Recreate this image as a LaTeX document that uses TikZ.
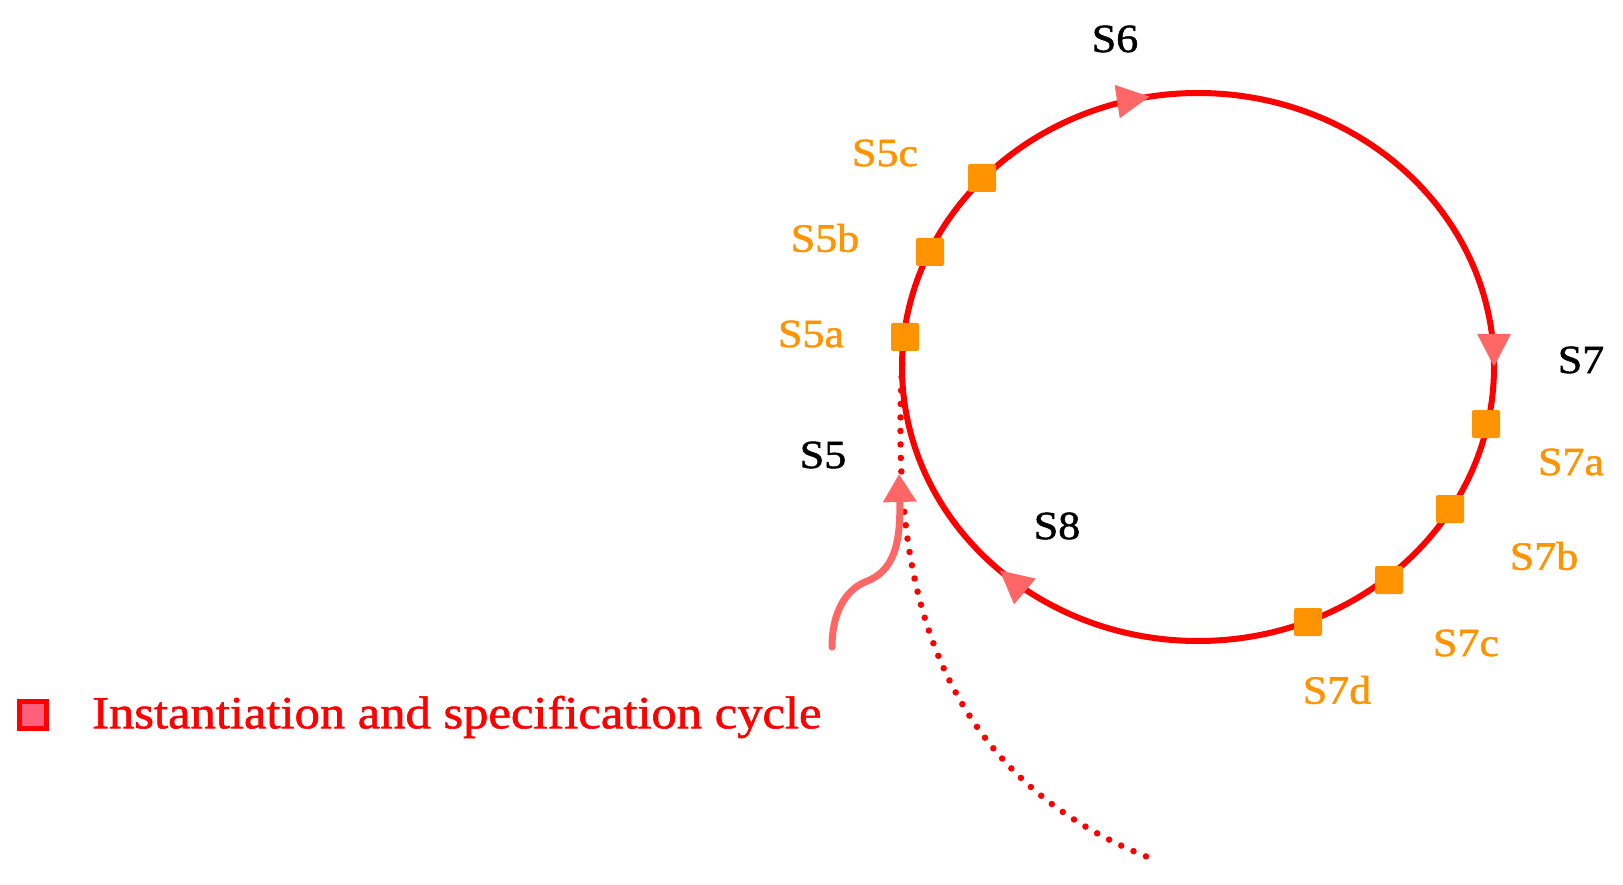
\documentclass[tikz,border=0pt]{standalone}
\usepackage{fontspec}
\newfontfamily\pal[FakeStretch=1.1,FakeBold=1.3]{Liberation Serif}
\usetikzlibrary{arrows.meta,decorations.markings}
\definecolor{cycred}{HTML}{FF0000}
\definecolor{arrpink}{HTML}{FF6666}
\definecolor{stepor}{HTML}{FF9400}
\definecolor{legpink}{HTML}{FF5F7A}
\tikzset{
  sq/.style={fill=stepor, minimum size=28pt, inner sep=0pt, rounded corners=2pt},
  orlab/.style={text=stepor, font=\pal\fontsize{40}{40}\selectfont, inner sep=0pt},
  bklab/.style={text=black, font=\pal\fontsize{40}{40}\selectfont, inner sep=0pt},
  cyc/.style={draw=cycred, line width=6pt},
  dotline/.style={draw=cycred, line width=6.5pt, line cap=round, dash pattern=on 0pt off 13.5pt},
  entry/.style={draw=arrpink, line width=7pt, line cap=round},
}
\begin{document}
\begin{tikzpicture}[x=1pt,y=-1pt]
\useasboundingbox (0,0) rectangle (1623,885);
% dotted entry path
\coordinate (dtop) at (903,350);
\coordinate (dend) at (1150,858);
\draw[dotline] (dtop) .. controls (893,520) and (900,760) .. (dend);
% cycle
\draw[cyc, decoration={markings,
   mark=at position 0.223 with {\arrow[arrpink]{Triangle[length=33pt,width=32pt]}},
   mark=at position 0.5 with {\arrow[arrpink]{Triangle[length=33pt,width=32pt]}},
   mark=at position 0.87 with {\arrow[arrpink]{Triangle[length=33pt,width=32pt]}}},
   postaction={decorate}]
   (902,367) arc[start angle=180, end angle=-180, x radius=296pt, y radius=274pt];
% incoming arrow
\coordinate (ain) at (832,647);
\coordinate (aout) at (899,474);
\draw[entry, -{Triangle[length=28pt,width=32pt]}] (ain) .. controls (832,612) and (846,590) .. (865,582) .. controls (892,572) and (901,548) .. (aout);
% squares
\node[sq] (s5a) at (905,337) {};
\node[sq] (s5b) at (930,252) {};
\node[sq] (s5c) at (982,178) {};
\node[sq] (s7a) at (1486,424) {};
\node[sq] (s7b) at (1450,509) {};
\node[sq] (s7c) at (1389,580) {};
\node[sq] (s7d) at (1308,622) {};
% labels
\node[orlab] (l5a) at (811,334) {S5a};
\node[orlab] (l5b) at (825,238) {S5b};
\node[orlab] (l5c) at (885,153) {S5c};
\node[orlab] (l7a) at (1571,462) {S7a};
\node[orlab] (l7b) at (1544,556) {S7b};
\node[orlab] (l7c) at (1466,643) {S7c};
\node[orlab] (l7d) at (1337,690) {S7d};
\node[bklab] (l5) at (823,455) {S5};
\node[bklab] (l6) at (1115,39) {S6};
\node[bklab] (l7) at (1581,360) {S7};
\node[bklab] (l8) at (1057,526) {S8};
% legend
\node[draw=cycred, fill=legpink, line width=5pt, minimum size=27pt, inner sep=0pt] (legsq) at (33,715) {};
\node[anchor=west, text=cycred, inner sep=0pt, font=\pal\fontsize{46}{46}\selectfont] (legtx) at (92,717) {Instantiation and specification cycle};
\end{tikzpicture}
\end{document}
